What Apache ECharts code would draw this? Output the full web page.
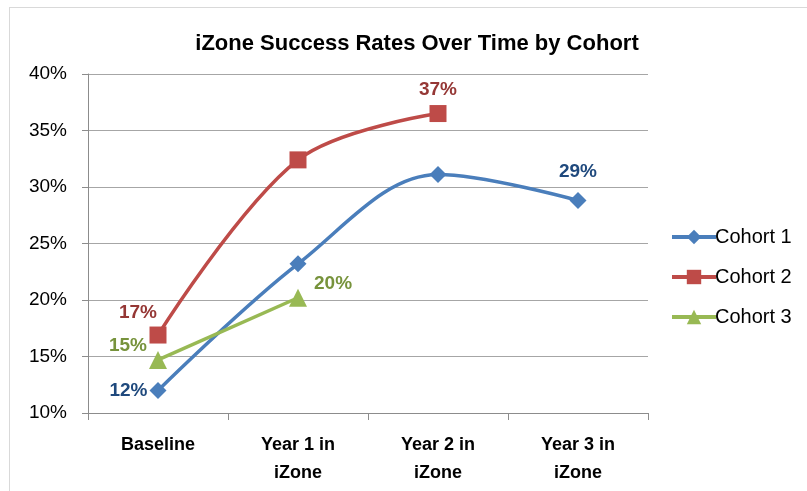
<!DOCTYPE html>
<html>
<head>
<meta charset="utf-8">
<script src="https://cdn.jsdelivr.net/npm/echarts@6/dist/echarts.min.js"></script>
<style>
  html, body { margin: 0; padding: 0; background: #fff; }
  #chart { width: 807px; height: 491px; }
  .frame { position: absolute; left: 9px; top: 7px; width: 820px; height: 500px; border: 1px solid #d9d9d9; }
</style>
</head>
<body>
<div class="frame"></div>
<div id="chart" style="position:absolute;left:0;top:0"></div>
<script>
const categories = ['Baseline', 'Year 1 in\niZone', 'Year 2 in\niZone', 'Year 3 in\niZone']
const cohort1 = [12.0, 23.2, 31.1, 28.8]
const cohort2 = [16.9, 32.4, 36.5]
const cohort3 = [14.7, 20.2]
const yTicks = [10, 15, 20, 25, 30, 35, 40]

const font = '"Liberation Sans", Arial, sans-serif'

const chart = echarts.init(document.getElementById('chart'))

const makeSeries = (name, data, symbol, size, lineColor, labelColor) => ({
  name,
  type: 'line',
  data,
  smooth: 0.35,
  symbol,
  symbolSize: size,
  lineStyle: { color: lineColor, width: 3.5 },
  itemStyle: { color: lineColor },
  label: {
    show: true,
    position: 'top',
    formatter: (p) => Math.round(p.value) + '%',
    color: labelColor,
    fontFamily: font,
    fontWeight: 'bold',
    fontSize: 19,
  },
})

chart.setOption({
  animation: false,
  title: {
    text: 'iZone Success Rates Over Time by Cohort',
    left: 412,
    top: 28,
    textAlign: 'center',
    textStyle: { fontFamily: font, fontWeight: 'bold', fontSize: 22, color: '#000' },
  },
  legend: {
    orient: 'vertical',
    left: 665,
    top: 222,
    itemGap: 20,
    itemWidth: 44,
    itemHeight: 18,
    lineStyle: { width: 4 },
    textStyle: { fontFamily: font, fontSize: 20, color: '#000', padding: [0, 0, 0, -6] },
    data: ['Cohort 1', 'Cohort 2', 'Cohort 3'],
  },
  grid: { left: 88, right: 159, top: 74, bottom: 78 },
  xAxis: {
    type: 'category',
    data: categories,
    boundaryGap: true,
    axisLine: { lineStyle: { color: '#8c8c8c', width: 1 } },
    axisTick: { show: true, length: 7, lineStyle: { color: '#8c8c8c' } },
    axisLabel: {
      fontFamily: font,
      fontWeight: 'bold',
      fontSize: 18,
      color: '#000',
      margin: 18,
      lineHeight: 28,
    },
  },
  yAxis: {
    type: 'value',
    min: yTicks[0],
    max: yTicks[yTicks.length - 1],
    interval: 5,
    axisLine: { show: true, lineStyle: { color: '#8c8c8c', width: 1 } },
    axisTick: { show: true, length: 6, lineStyle: { color: '#8c8c8c' } },
    splitLine: { lineStyle: { color: '#a6a6a6', width: 1 } },
    axisLabel: {
      formatter: '{value}%',
      fontFamily: font,
      fontSize: 19,
      color: '#000',
      margin: 21,
    },
  },
  series: [
    makeSeries('Cohort 1', cohort1, 'diamond', 17, '#4A7EBB', '#1F497D'),
    makeSeries('Cohort 2', cohort2, 'rect', 17, '#BE4B48', '#953735'),
    makeSeries('Cohort 3', cohort3, 'triangle', 18, '#98B954', '#77933C'),
  ],
})

// per-point label placement as in the original
chart.setOption({
  series: [
    { data: cohort1.map((v, i) => ({ value: v, label: i === 0 ? { position: 'left', distance: 2 } : i === 3 ? { position: 'top', distance: 11 } : { show: false } })) },
    { data: cohort2.map((v, i) => ({ value: v, label: i === 0 ? { position: 'top', offset: [-20, 6], distance: 10 } : i === 2 ? { position: 'top', distance: 6 } : { show: false } })) },
    { data: cohort3.map((v, i) => ({ value: v, label: i === 0 ? { position: 'left', offset: [0, -14], distance: 2 } : { position: 'right', offset: [2, -14] } })) },
  ],
})
</script>
</body>
</html>
